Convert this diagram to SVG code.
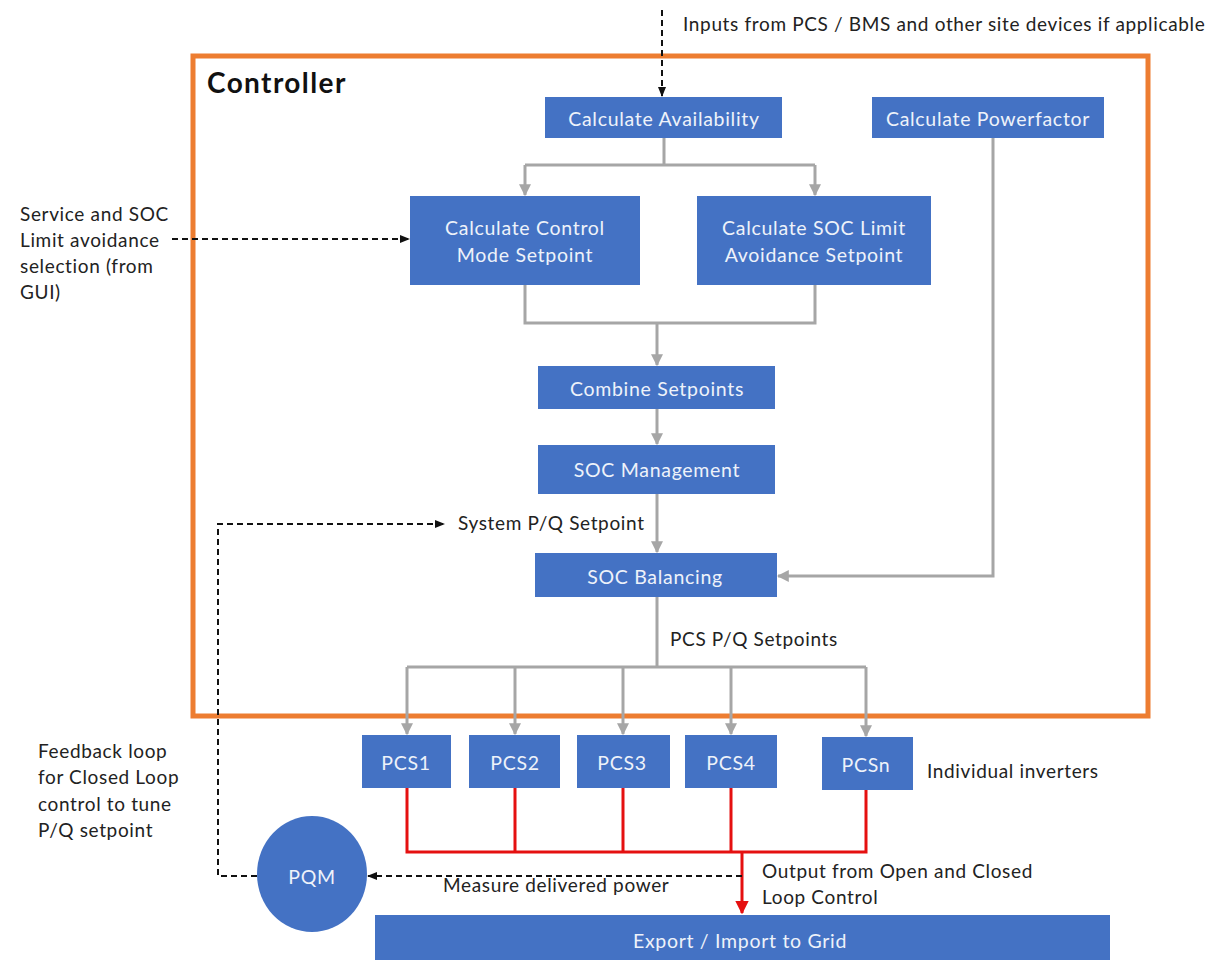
<svg xmlns="http://www.w3.org/2000/svg" width="1224" height="960" viewBox="0 0 1224 960">
  <style>
    .box { fill: #4472C4; }
    .lbl { font-family: Lato, "Open Sans", "Liberation Sans", sans-serif; font-size: 19.5px; letter-spacing: 0.7px; fill: #eef2fa; text-anchor: middle; dominant-baseline: central; }
    .note { font-family: Lato, "Open Sans", "Liberation Sans", sans-serif; font-size: 19px; letter-spacing: 0.65px; fill: #222; }
    .gray { fill: none; stroke: #a6a6a6; stroke-width: 3; }
    .red { fill: none; stroke: #e51010; stroke-width: 3; }
    .dash { fill: none; stroke: #111; stroke-width: 2; stroke-dasharray: 6 4; }
  </style>
  <defs>
    <marker id="gArrow" viewBox="0 0 10 10" refX="9" refY="5" markerWidth="4" markerHeight="4" orient="auto">
      <path d="M0,0 L10,5 L0,10 z" fill="#a6a6a6"/>
    </marker>
    <marker id="rArrow" viewBox="0 0 10 10" refX="9" refY="5" markerWidth="4.5" markerHeight="4.5" orient="auto">
      <path d="M0,0 L10,5 L0,10 z" fill="#e51010"/>
    </marker>
    <marker id="kArrow" viewBox="0 0 10 10" refX="9" refY="5" markerWidth="5" markerHeight="5" orient="auto">
      <path d="M0,1 L10,5 L0,9 z" fill="#111"/>
    </marker>
  </defs>

  <rect width="1224" height="960" fill="#ffffff"/>

  <!-- controller frame -->
  <g id="controller">
    <rect x="193" y="56" width="955" height="660" fill="none" stroke="#ED7D31" stroke-width="5"/>
    <text x="207" y="93" font-family="Lato, 'Open Sans', 'Liberation Sans', sans-serif" font-size="28" font-weight="bold" letter-spacing="1.4" fill="#111">Controller</text>
  </g>

  <!-- connectors -->
  <g id="connectors">
    <!-- grey signal flow -->
    <path class="gray" d="M664,138 V165 M525,165 H815"/>
    <path class="gray" d="M525,165 V195" marker-end="url(#gArrow)"/>
    <path class="gray" d="M815,165 V195" marker-end="url(#gArrow)"/>
    <path class="gray" d="M525,285 V323 H815 V285"/>
    <path class="gray" d="M657,323 V365" marker-end="url(#gArrow)"/>
    <path class="gray" d="M657,409 V444" marker-end="url(#gArrow)"/>
    <path class="gray" d="M657,494 V552" marker-end="url(#gArrow)"/>
    <path class="gray" d="M993,138 V576 H778" marker-end="url(#gArrow)"/>
    <path class="gray" d="M657,597 V667 M407,667 H866"/>
    <path class="gray" d="M407,667 V734" marker-end="url(#gArrow)"/>
    <path class="gray" d="M515,667 V734" marker-end="url(#gArrow)"/>
    <path class="gray" d="M623,667 V734" marker-end="url(#gArrow)"/>
    <path class="gray" d="M731,667 V734" marker-end="url(#gArrow)"/>
    <path class="gray" d="M866,667 V736" marker-end="url(#gArrow)"/>

    <!-- power output -->
    <path class="red" d="M407,788 V852 H866 V790 M515,788 V852 M623,788 V852 M731,788 V852"/>
    <path class="red" d="M742,852 V913" marker-end="url(#rArrow)"/>

    <!-- external inputs and feedback -->
    <path class="dash" d="M662,10 V96" marker-end="url(#kArrow)"/>
    <path class="dash" d="M172,239 H409" marker-end="url(#kArrow)"/>
    <path class="dash" d="M742,876 H368" marker-end="url(#kArrow)"/>
    <path class="dash" d="M257,876 H218 V524 H444" marker-end="url(#kArrow)"/>
  </g>

  <!-- nodes -->
  <g id="calc-availability">
    <rect class="box" x="545" y="97" width="237" height="41"/>
    <text class="lbl" x="664" y="118">Calculate Availability</text>
  </g>
  <g id="calc-powerfactor">
    <rect class="box" x="872" y="97" width="232" height="41"/>
    <text class="lbl" x="988" y="118">Calculate Powerfactor</text>
  </g>
  <g id="calc-control-mode">
    <rect class="box" x="410" y="196" width="230" height="89"/>
    <text class="lbl" x="525" y="227">Calculate Control</text>
    <text class="lbl" x="525" y="254">Mode  Setpoint</text>
  </g>
  <g id="calc-soc-limit">
    <rect class="box" x="697" y="196" width="234" height="89"/>
    <text class="lbl" x="814" y="227">Calculate SOC Limit</text>
    <text class="lbl" x="814" y="254">Avoidance Setpoint</text>
  </g>
  <g id="combine-setpoints">
    <rect class="box" x="538" y="366" width="237" height="43"/>
    <text class="lbl" x="657" y="388">Combine  Setpoints</text>
  </g>
  <g id="soc-management">
    <rect class="box" x="538" y="445" width="237" height="49"/>
    <text class="lbl" x="657" y="469">SOC Management</text>
  </g>
  <g id="soc-balancing">
    <rect class="box" x="535" y="553" width="242" height="44"/>
    <text class="lbl" x="655" y="576">SOC Balancing</text>
  </g>
  <g id="pcs1">
    <rect class="box" x="362" y="735" width="89" height="53"/>
    <text class="lbl" x="406" y="762">PCS1</text>
  </g>
  <g id="pcs2">
    <rect class="box" x="469" y="735" width="91" height="53"/>
    <text class="lbl" x="515" y="762">PCS2</text>
  </g>
  <g id="pcs3">
    <rect class="box" x="577" y="735" width="93" height="53"/>
    <text class="lbl" x="622" y="762">PCS3</text>
  </g>
  <g id="pcs4">
    <rect class="box" x="685" y="735" width="92" height="53"/>
    <text class="lbl" x="731" y="762">PCS4</text>
  </g>
  <g id="pcsn">
    <rect class="box" x="822" y="737" width="91" height="53"/>
    <text class="lbl" x="866" y="764">PCSn</text>
  </g>
  <g id="pqm">
    <ellipse class="box" cx="312" cy="874" rx="55" ry="58"/>
    <text class="lbl" x="312" y="876">PQM</text>
  </g>
  <g id="grid">
    <rect class="box" x="375" y="915" width="735" height="50"/>
    <text class="lbl" x="740" y="940">Export / Import to Grid</text>
  </g>

  <!-- annotations -->
  <g id="annotations">
    <text class="note" x="683" y="31">Inputs from PCS / BMS and other site devices if applicable</text>
    <text class="note" x="20" y="221">Service and SOC</text>
    <text class="note" x="20" y="247">Limit avoidance</text>
    <text class="note" x="20" y="273">selection (from</text>
    <text class="note" x="20" y="299">GUI)</text>
    <text class="note" x="458" y="530">System P/Q Setpoint</text>
    <text class="note" x="670" y="646">PCS P/Q Setpoints</text>
    <text class="note" x="927" y="778">Individual inverters</text>
    <text class="note" x="38" y="758">Feedback loop</text>
    <text class="note" x="38" y="784">for Closed Loop</text>
    <text class="note" x="38" y="811">control to tune</text>
    <text class="note" x="38" y="837">P/Q setpoint</text>
    <text class="note" x="443" y="892">Measure delivered power</text>
    <text class="note" x="762" y="878">Output from Open and Closed</text>
    <text class="note" x="762" y="904">Loop Control</text>
  </g>
</svg>
